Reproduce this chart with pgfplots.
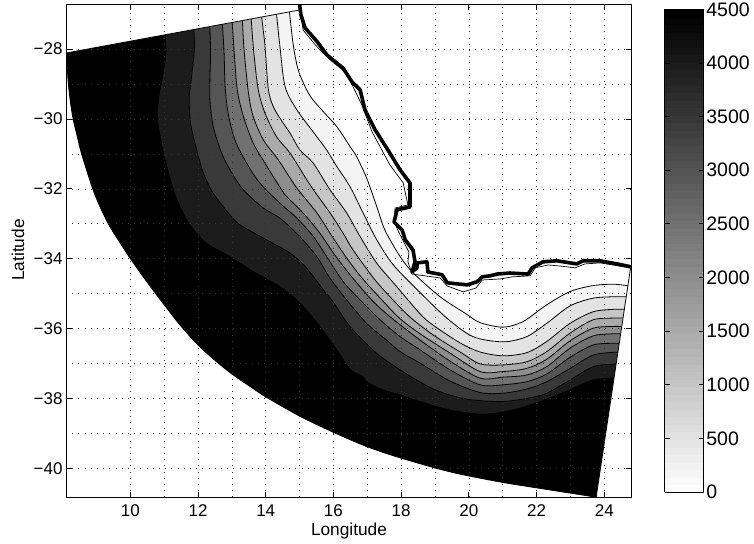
\documentclass[border=0pt]{standalone}
\usepackage{fontspec}
\setmainfont{Liberation Sans}
\usepackage{pgfplots}
\usepackage{pgfplotstable}
\pgfplotsset{compat=1.18}
\definecolor{b9}{gray}{0.111}
\definecolor{b8}{gray}{0.222}
\definecolor{b7}{gray}{0.333}
\definecolor{b6}{gray}{0.444}
\definecolor{b5}{gray}{0.556}
\definecolor{b4}{gray}{0.667}
\definecolor{b3}{gray}{0.778}
\definecolor{b2}{gray}{0.889}
\definecolor{b1}{gray}{0.955}
\pgfplotstableread{
x y
14.66 -26.14
14.68 -26.64
14.70 -26.94
14.82 -27.93
14.96 -28.60
15.16 -29.07
15.36 -29.41
15.70 -29.79
16.10 -30.22
16.49 -30.79
16.69 -31.09
16.98 -31.69
17.28 -32.51
17.52 -33.18
17.97 -33.94
18.36 -34.41
19.15 -35.09
19.92 -35.58
20.33 -35.83
21.01 -35.96
21.60 -35.80
22.30 -35.32
22.99 -34.94
23.67 -34.77
24.26 -34.73
24.70 -34.77
25.10 -34.77
25.70 -34.77
25.80 -26.00
14.60 -26.00
14.66 -26.14
}\cA
\pgfplotstableread{
x y
14.28 -26.20
14.30 -26.70
14.32 -27.00
14.42 -27.93
14.57 -29.07
14.92 -29.74
15.51 -30.51
15.80 -30.89
16.10 -31.36
16.49 -31.94
16.88 -32.70
17.28 -33.46
17.77 -34.18
18.56 -34.97
19.35 -35.70
20.12 -36.23
21.01 -36.38
21.71 -36.23
22.30 -35.85
22.99 -35.35
23.67 -35.13
24.26 -35.09
24.65 -35.09
25.05 -35.09
25.65 -35.09
25.80 -34.00
15.00 -26.00
14.28 -26.20
}\cB
\pgfplotstableread{
x y
13.84 -26.28
13.86 -26.78
13.88 -27.08
13.98 -27.93
14.08 -29.17
14.27 -29.74
14.72 -30.41
15.01 -30.89
15.40 -31.26
15.90 -32.03
16.39 -32.69
16.79 -33.37
17.28 -34.13
17.87 -34.80
18.56 -35.58
18.94 -35.90
19.74 -36.41
20.33 -36.67
21.01 -36.78
21.71 -36.69
22.30 -36.37
22.99 -35.85
23.67 -35.52
24.26 -35.45
24.59 -35.45
24.99 -35.45
25.59 -35.45
25.80 -34.00
15.00 -26.00
13.84 -26.28
}\cC
\pgfplotstableread{
x y
13.53 -26.34
13.55 -26.84
13.57 -27.14
13.65 -28.12
13.78 -29.17
13.98 -29.84
14.32 -30.51
14.72 -30.98
15.21 -31.74
15.41 -32.03
15.90 -32.69
16.28 -33.26
16.58 -33.75
17.23 -34.61
17.76 -35.18
18.26 -35.67
18.94 -36.18
19.74 -36.67
20.33 -37.01
21.01 -37.04
21.71 -36.95
22.30 -36.66
22.99 -36.13
23.67 -35.75
24.26 -35.70
24.55 -35.70
24.95 -35.70
25.55 -35.70
25.80 -34.00
15.00 -26.00
13.53 -26.34
}\cD
\pgfplotstableread{
x y
13.27 -26.38
13.29 -26.88
13.31 -27.18
13.36 -28.02
13.49 -29.26
13.63 -29.93
13.93 -30.60
14.37 -31.17
14.82 -31.84
14.96 -32.03
15.51 -32.69
15.90 -33.27
16.39 -33.98
16.84 -34.55
17.43 -35.18
17.97 -35.72
18.56 -36.15
19.44 -36.70
20.33 -37.23
21.01 -37.23
21.71 -37.14
22.30 -36.88
22.99 -36.35
23.67 -35.99
24.26 -35.94
24.51 -35.94
24.91 -35.94
25.51 -35.94
25.80 -34.00
15.00 -26.00
13.27 -26.38
}\cE
\pgfplotstableread{
x y
12.97 -26.44
12.99 -26.94
13.01 -27.24
13.07 -28.12
13.16 -29.17
13.34 -29.93
13.63 -30.69
13.98 -31.27
14.47 -32.03
14.62 -32.22
15.11 -32.70
15.60 -33.27
16.00 -33.84
16.49 -34.46
17.13 -35.18
17.67 -35.66
18.56 -36.33
19.44 -36.93
20.33 -37.42
21.01 -37.39
21.71 -37.33
22.30 -37.09
22.99 -36.56
23.67 -36.21
24.26 -36.15
24.48 -36.15
24.88 -36.15
25.48 -36.15
25.80 -34.00
15.00 -26.00
12.97 -26.44
}\cF
\pgfplotstableread{
x y
12.68 -26.49
12.70 -26.99
12.72 -27.29
12.77 -28.12
12.80 -29.07
12.89 -29.84
13.09 -30.60
13.44 -31.27
13.83 -31.84
14.42 -32.41
14.92 -32.84
15.41 -33.37
15.80 -33.94
16.29 -34.66
16.79 -35.18
17.38 -35.75
17.97 -36.23
18.56 -36.61
19.44 -37.18
20.33 -37.61
21.01 -37.61
21.71 -37.52
22.30 -37.30
22.99 -36.82
23.67 -36.47
24.26 -36.42
24.44 -36.42
24.84 -36.42
25.44 -36.42
25.80 -34.00
15.00 -26.00
12.68 -26.49
}\cG
\pgfplotstableread{
x y
12.31 -26.55
12.33 -27.05
12.35 -27.35
12.37 -28.12
12.35 -28.88
12.35 -29.45
12.45 -30.22
12.70 -30.98
13.00 -31.55
13.34 -32.03
13.93 -32.55
14.42 -32.84
15.01 -33.37
15.51 -33.94
15.90 -34.56
16.39 -35.18
16.98 -35.85
17.57 -36.33
17.97 -36.66
18.56 -36.99
19.44 -37.50
20.33 -37.83
21.01 -37.85
21.71 -37.73
22.30 -37.52
22.99 -37.14
23.67 -36.76
24.26 -36.68
24.40 -36.68
24.80 -36.68
25.40 -36.68
25.80 -34.00
15.00 -26.00
12.31 -26.55
}\cH
\pgfplotstableread{
x y
11.84 -26.64
11.86 -27.14
11.88 -27.44
11.89 -28.02
11.81 -28.79
11.74 -29.36
11.78 -30.12
11.96 -30.89
12.16 -31.55
12.45 -32.13
12.95 -32.75
13.24 -33.03
13.93 -33.41
14.72 -33.84
15.21 -34.27
15.70 -34.89
15.95 -35.18
16.49 -35.94
17.28 -36.71
17.97 -37.18
18.56 -37.53
19.15 -37.81
19.94 -38.02
20.92 -38.09
21.71 -38.00
22.30 -37.85
22.99 -37.47
23.67 -37.09
24.26 -37.02
24.35 -37.02
24.75 -37.02
25.35 -37.02
25.80 -34.00
15.00 -26.00
11.84 -26.64
}\cI
\pgfplotstableread{
x y
10.99 -26.79
11.01 -27.29
11.03 -27.59
11.05 -28.12
10.97 -28.69
10.83 -29.45
10.80 -29.93
10.88 -30.51
11.03 -31.17
11.27 -32.03
11.47 -32.51
11.76 -33.03
12.26 -33.56
12.95 -33.94
13.63 -34.37
14.42 -34.80
15.01 -35.27
15.60 -35.94
16.10 -36.61
16.49 -37.16
16.88 -37.38
16.98 -37.52
17.47 -37.76
17.97 -37.90
18.56 -38.09
19.44 -38.33
20.42 -38.45
21.30 -38.33
22.10 -38.09
22.89 -37.79
23.67 -37.47
24.28 -37.42
24.68 -37.42
25.28 -37.42
25.80 -34.00
15.00 -26.00
10.99 -26.79
}\cJ
\begin{document}
\begin{tikzpicture}
\path[use as bounding box] (0pt,0pt) rectangle (754pt,-543pt);
\begin{axis}[
  at={(66pt,-497.3pt)}, anchor=south west,
  scale only axis, width=565.7pt, height=492.6pt,
  xmin=8.10, xmax=24.81, ymin=-40.83, ymax=-26.73,
  xtick={10,12,...,24},
  ytick={-40,-38,-36,-34,-32,-30,-28},
  yticklabels={−40,−38,−36,−34,−32,−30,−28},
  minor tick num=1,
  grid=both,
  axis on top,
  tick align=inside,
  major tick length=5.6pt,
  minor tick length=0pt,
  axis line style={black,line width=0.9pt},
  tick style={black,line width=0.8pt},
  grid style={black!80,line width=0.55pt,dash pattern=on 0.9pt off 5.3pt},
  minor grid style={black!80,line width=0.55pt,dash pattern=on 0.9pt off 5.3pt},
  major grid style={black!80,line width=0.55pt,dash pattern=on 0.9pt off 5.3pt},
  tick label style={font=\fontsize{17}{17}\selectfont},
  xticklabel style={yshift=-4pt},
  /pgf/number format/assume math mode=true,
  colormap={rgray}{gray(0cm)=(1); gray(1cm)=(0)},
  point meta min=0, point meta max=4500,
  colorbar sampled,
  colorbar style={
    samples=65,
    at={(parent axis.north east)}, anchor=north west,
    xshift=24.3pt, yshift=-4.6pt,
    scale only axis, width=39.3pt, height=482.7pt,
    ytick={0,500,...,4500},
    ytick pos=both, yticklabel pos=right,
    tick align=inside,
    major tick length=5pt,
    minor tick num=0,
    grid=none,
    axis on top,
    tick style={black,line width=0.8pt},
    axis line style={black,line width=0.9pt},
    yticklabel style={font=\fontsize{19.5}{19.5}\selectfont,
      /pgf/number format/1000 sep={},/pgf/number format/assume math mode=true,xshift=-1pt},
  },
]
% whole sector, deepest level
\addplot[smooth,fill=black,draw=black,line width=0.8pt,mark=none] coordinates {
(8.08,-27.60)(8.09,-27.90)(8.115,-28.11)(8.16,-28.88)(8.23,-29.51)(8.31,-30.00)(8.43,-30.49)
(8.57,-31.03)(8.90,-32.03)(9.16,-32.63)(9.40,-33.09)(9.70,-33.55)(9.99,-33.98)(10.48,-34.65)
(11.00,-35.32)(11.47,-35.90)(12.00,-36.47)(12.50,-36.91)(13.00,-37.30)(13.51,-37.64)
(14.01,-37.96)(14.99,-38.50)(16.00,-38.97)(16.99,-39.38)(17.97,-39.70)(19.44,-40.10)
(20.92,-40.39)(22.40,-40.62)(23.76,-40.83)(24.50,-41.00)(25.50,-41.10)(25.80,-34.00)(15.00,-26.00)(8.08,-27.60)};
\addplot[smooth,fill=b9,draw=black,line width=0.8pt,mark=none] table[x=x,y=y] {\cJ};
\addplot[smooth,fill=b8,draw=black,line width=0.8pt,mark=none] table[x=x,y=y] {\cI};
\addplot[smooth,fill=b7,draw=black,line width=0.8pt,mark=none] table[x=x,y=y] {\cH};
\addplot[smooth,fill=b6,draw=black,line width=0.8pt,mark=none] table[x=x,y=y] {\cG};
\addplot[smooth,fill=b5,draw=black,line width=0.8pt,mark=none] table[x=x,y=y] {\cF};
\addplot[smooth,fill=b4,draw=black,line width=0.8pt,mark=none] table[x=x,y=y] {\cE};
\addplot[smooth,fill=b3,draw=black,line width=0.8pt,mark=none] table[x=x,y=y] {\cD};
\addplot[smooth,fill=b2,draw=black,line width=0.8pt,mark=none] table[x=x,y=y] {\cC};
\addplot[smooth,fill=b1,draw=black,line width=0.8pt,mark=none] table[x=x,y=y] {\cB};
\addplot[smooth,fill=white,draw=black,line width=0.8pt,mark=none] table[x=x,y=y] {\cA};
% white outside the sector's two straight edges, and the edges themselves
\addplot[fill=white,draw=none,mark=none] coordinates {(8.00,-28.13)(15.01,-26.88)(15.01,-26.00)(8.00,-26.00)(8.00,-28.13)};
\addplot[fill=white,draw=none,mark=none] coordinates {(24.78,-34.24)(23.76,-40.83)(23.70,-41.30)(25.00,-41.30)(25.00,-34.24)(24.78,-34.24)};
\addplot[black,line width=0.8pt,mark=none] coordinates {(8.115,-28.11)(15.01,-26.88)};
\addplot[black,line width=0.8pt,mark=none] coordinates {(24.78,-34.24)(23.76,-40.83)};
% coast, thin
\addplot[black,line width=0.7pt,mark=none] coordinates {
(15.04,-26.94)(15.10,-27.45)(15.49,-27.91)(15.90,-28.31)(16.34,-28.65)(16.55,-29.02)
(16.84,-29.60)(17.14,-30.37)(17.67,-31.32)(18.06,-31.83)(18.20,-32.46)(17.82,-32.55)
(17.79,-32.95)(17.97,-33.32)(18.23,-33.81)(18.20,-34.09)(18.32,-34.44)(19.15,-34.55)
(19.36,-34.78)(19.83,-34.95)(20.21,-34.84)(20.39,-34.61)(20.92,-34.58)(21.28,-34.52)
(21.81,-34.49)(21.96,-34.26)(22.34,-34.18)(22.69,-34.21)(23.14,-34.26)(23.43,-34.15)
(23.87,-34.12)(24.82,-34.27)};
% coast, thick
\addplot[black,line width=3.6pt,mark=none,line join=round] coordinates {
(14.98,-26.58)(15.04,-27.02)(15.16,-27.39)(15.52,-27.79)(15.81,-28.17)(16.28,-28.54)
(16.55,-28.94)(16.79,-29.17)(16.93,-29.74)(17.23,-30.31)(17.61,-30.89)(17.97,-31.46)
(18.26,-31.83)(18.26,-32.32)(18.26,-32.52)(17.88,-32.60)(17.79,-32.95)(18.03,-33.18)
(18.12,-33.46)(18.35,-33.75)(18.41,-34.09)(18.32,-34.38)(18.47,-34.26)(18.47,-34.12)
(18.76,-34.09)(18.79,-34.38)(19.21,-34.46)(19.36,-34.69)(19.95,-34.75)(20.24,-34.66)
(20.39,-34.52)(20.63,-34.49)(20.83,-34.44)(21.22,-34.41)(21.75,-34.44)(21.87,-34.26)
(22.19,-34.09)(22.60,-34.06)(23.19,-34.15)(23.37,-34.06)(23.87,-34.06)(24.38,-34.15)
(24.82,-34.24)};
\end{axis}
\node[font=\fontsize{17.3}{17.3}\selectfont] at (349pt,-531pt) {Longitude};
\node[font=\fontsize{17.3}{17.3}\selectfont,rotate=90] at (18pt,-250pt) {Latitude};
\end{tikzpicture}
\end{document}
